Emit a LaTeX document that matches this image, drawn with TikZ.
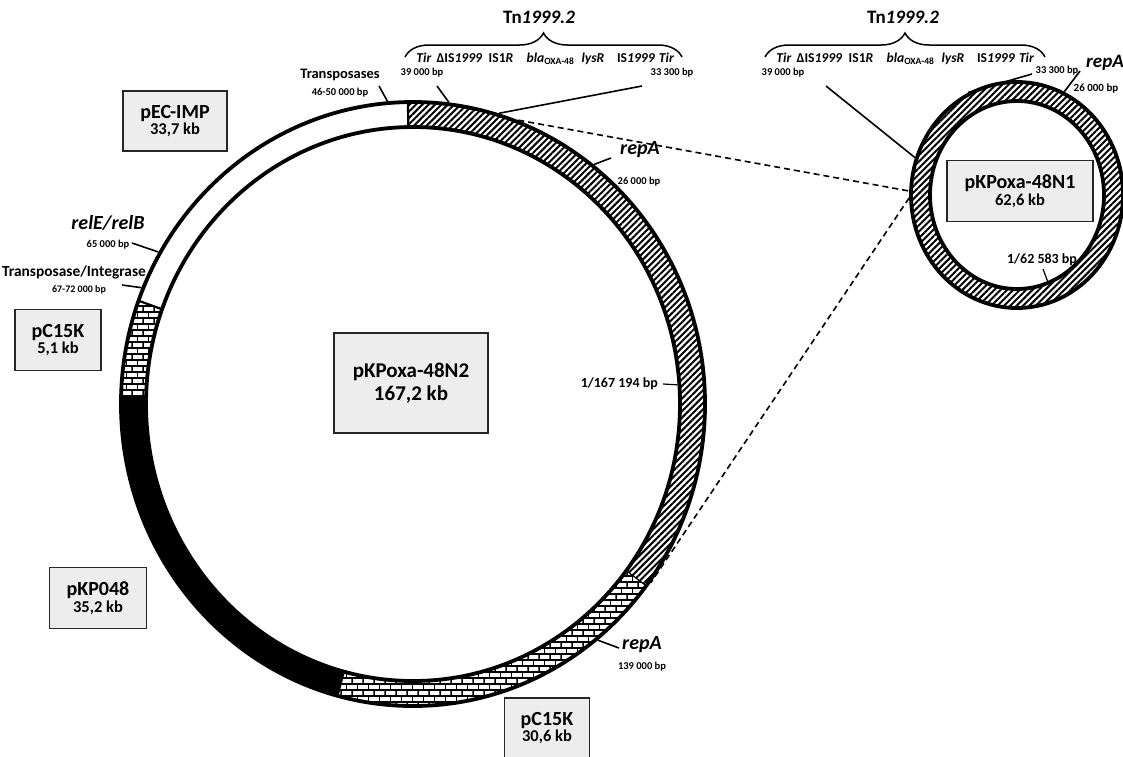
\documentclass[tikz,border=0pt]{standalone}
\usepackage{fontspec}
\setmainfont{Carlito}
\usetikzlibrary{patterns,patterns.meta,decorations.pathreplacing,calc}

\tikzdeclarepattern{
  name=brk,
  type=uncolored,
  bottom left={(-.6pt,-.6pt)},
  top right={(11.6pt,12.6pt)},
  tile size={(11pt,12pt)},
  code={
    \tikzset{x=1pt,y=1pt}
    \path[draw,line width=1.2pt] (-0.6,0)--(11.6,0) (-0.6,6)--(11.6,6) (0,0)--(0,6) (5.5,6)--(5.5,12);
  }
}

\newcommand{\ringseg}[3]{%
  \path[#1] ($(C)+(-#2:292 and 302)$) arc[start angle=-#2,end angle=-#3,x radius=292,y radius=302]
    -- ($(C)+(-#3:267 and 277)$) arc[start angle=-#3,end angle=-#2,x radius=267,y radius=277] -- cycle;}

\newcommand{\genes}[3]{%
  \node[gn] (#1a) at (#2+424,#3) {\textit{Tir}};
  \node[gn] (#1b) at (#2+459.5,#3) {ΔIS\textit{1999}};
  \node[gn] (#1c) at (#2+501,#3) {IS1\textit{R}};
  \node[gn] (#1d) at (#2+550.5,#3) {\textit{bla}\textsubscript{OXA-48}};
  \node[gn] (#1e) at (#2+593,#3) {\textit{lysR}};
  \node[gn] (#1f) at (#2+636,#3) {IS\textit{1999}};
  \node[gn] (#1g) at (#2+666.5,#3) {\textit{Tir}};}

\begin{document}
\begin{tikzpicture}[x=1pt,y=-1pt,
  bp/.style={inner sep=0pt, font=\fontsize{10.5}{12}\selectfont\bfseries},
  gene/.style={inner sep=0pt, font=\fontsize{20}{22}\selectfont\bfseries\itshape},
  mid/.style={inner sep=0pt, font=\fontsize{14.5}{16}\selectfont\bfseries},
  gn/.style={inner sep=0pt, anchor=base, font=\fontsize{13.6}{16}\selectfont\bfseries},
  tn/.style={inner sep=0pt, font=\fontsize{19}{21}\selectfont\bfseries},
  plasmid/.style={draw=black!85, line width=1.2pt, fill=black!7, align=center, inner sep=0pt, font=\bfseries},
  tick/.style={line width=1.6pt},
  ring/.style={line width=3.8pt},
  link/.style={line width=1.6pt},
  dlink/.style={line width=1.6pt, dash pattern=on 6pt off 4pt},
  brc/.style={line width=1.5pt, decorate, decoration={brace, amplitude=24pt, aspect=0.5}},
  hatch/.style={pattern={Lines[angle=45,distance=4.5pt,line width=2pt]}}
]
\useasboundingbox (0,0) rectangle (1123,756);
\fill[white] (0,0) rectangle (1123,756);

\coordinate (C) at (413,404);
\coordinate (R) at (1017,195);

% ---------- big ring ----------
\ringseg{fill=white}{91}{160}
\ringseg{pattern=brk}{160}{178.5}
\ringseg{fill=black}{178.5}{255}
\ringseg{pattern=brk}{255}{323}
\ringseg{hatch}{323}{451}
\draw[ring] (C) ellipse [x radius=292, y radius=302];
\draw[ring] (C) ellipse [x radius=267, y radius=277];
\foreach \a in {91,160,178.5,255}{
  \draw[line width=2.2pt] ($(C)+(-\a:267 and 277)$) -- ($(C)+(-\a:292 and 302)$);}
\draw[line width=1.2pt] ($(C)+(-323:267 and 277)$) -- ($(C)+(-323:292 and 302)$);

% ---------- small ring ----------
\path[hatch, even odd rule] (R) ellipse [x radius=106, y radius=113] (R) ellipse [x radius=87, y radius=94];
\draw[ring] (R) ellipse [x radius=106, y radius=113];
\draw[ring] (R) ellipse [x radius=87, y radius=94];

% ---------- ring points ----------
\coordinate (b95) at ($(C)+(-95:294 and 304)$);
\coordinate (b83) at ($(C)+(-83:294 and 304)$);
\coordinate (b73) at ($(C)+(-73:294 and 304)$);
\coordinate (b69) at ($(C)+(-69:294 and 304)$);
\coordinate (b52) at ($(C)+(-52:294 and 304)$);
\coordinate (bm51) at ($(C)+(51:294 and 304)$);
\coordinate (bm36) at ($(C)+(36:294 and 304)$);
\coordinate (b150) at ($(C)+(-150:294 and 304)$);
\coordinate (b157) at ($(C)+(-157.5:294 and 304)$);
\coordinate (bin) at ($(C)+(-4:265 and 275)$);
\coordinate (s161) at ($(R)+(-161:108 and 115)$);
\coordinate (s117) at ($(R)+(-117:108 and 115)$);
\coordinate (s64) at ($(R)+(-64:108 and 115)$);
\coordinate (s178) at ($(R)+(-178:108 and 115)$);
\coordinate (s181) at ($(R)+(-181.5:108 and 115)$);
\coordinate (sin) at ($(R)+(69:85 and 92)$);

% ---------- boxes ----------
\node[plasmid, minimum width=154pt, minimum height=100pt] (n2) at (411,383)
  {{\fontsize{21}{24}\selectfont pKPoxa-48N2}\\[4pt]{\fontsize{21}{24}\selectfont 167,2 kb}};
\node[plasmid, minimum width=146pt, minimum height=61pt] (n1) at (1020,191)
  {{\fontsize{20}{22}\selectfont pKPoxa-48N1}\\[1pt]{\fontsize{16.5}{19}\selectfont 62,6 kb}};
\node[plasmid, minimum width=104pt, minimum height=60pt] (pec) at (175,121)
  {{\fontsize{20}{22}\selectfont pEC-IMP}\\[1pt]{\fontsize{16.5}{19}\selectfont 33,7 kb}};
\node[plasmid, minimum width=86pt, minimum height=61pt] (pc1) at (58,340)
  {{\fontsize{20}{22}\selectfont pC15K}\\[1pt]{\fontsize{16.5}{19}\selectfont 5,1 kb}};
\node[plasmid, minimum width=97pt, minimum height=61pt] (pkp) at (98,598)
  {{\fontsize{20}{22}\selectfont pKP048}\\[1pt]{\fontsize{16.5}{19}\selectfont 35,2 kb}};
\node[plasmid, minimum width=85pt, minimum height=60pt] (pc2) at (547,728)
  {{\fontsize{20}{22}\selectfont pC15K}\\[1pt]{\fontsize{16.5}{19}\selectfont 30,6 kb}};

% ---------- Tn1999.2 groups ----------
\node[tn] (tnL) at (539,17) {Tn\textit{1999.2}};
\node[tn] (tnR) at (903,17) {Tn\textit{1999.2}};
\draw[brc] (405,57) -- (682,57);
\draw[brc] (765,57) -- (1045,57);
\genes{gL}{0}{62}
\genes{gR}{360}{62}

% ---------- labels big ring ----------
\node[mid] (trs) at (340,75) {Transposases};
\node[bp] (trsbp) at (340,93) {46-50 000 bp};
\coordinate (trst) at (379,86);
\draw[tick] (trst) -- (b95);

\node[bp] (l39) at (422,73) {39 000 bp};
\coordinate (l39t) at (437,86);
\draw[tick] (l39t) -- (b83);

\node[bp] (l33) at (672,73) {33 300 bp};
\coordinate (l33t) at (642,86);
\draw[link] (l33t) -- (b73);

\node[gene] (repA1) at (640,150) {repA};
\node[bp] (rep1bp) at (639,182) {26 000 bp};
\coordinate (rep1t) at (611,158);
\draw[tick] (b52) -- (rep1t);

\node[bp, font=\fontsize{14}{16}\selectfont\bfseries, anchor=east] (one) at (658,384) {1/167 194 bp};
\coordinate (onet) at (663,384);
\draw[line width=1.2pt] (onet) -- (bin);

\node[gene] (repA2) at (642,645) {repA};
\node[bp] (rep2bp) at (642,667) {139 000 bp};
\coordinate (rep2t) at (619,648);
\draw[tick] (bm51) -- (rep2t);

\node[gene] (rel) at (108,223) {relE/relB};
\node[bp] (relbp) at (108,245) {65 000 bp};
\coordinate (relt) at (132,243);
\draw[tick] (relt) -- (b150);

\node[mid, font=\fontsize{15.4}{17}\selectfont\bfseries] (ti) at (74,272) {Transposase/Integrase};
\node[bp, font=\fontsize{10}{12}\selectfont\bfseries] (tibp) at (79,290) {67-72 000 bp};
\coordinate (tit) at (122,285);
\draw[tick] (tit) -- (b157);

% ---------- labels small ring ----------
\node[bp] (r39) at (783,73) {39 000 bp};
\coordinate (r39t) at (826,86);
\draw[link] (r39t) -- (s161);

\node[bp] (r33) at (1057,71) {33 300 bp};
\coordinate (r33t) at (1032,74);
\draw[link] (r33t) -- (s117);

\node[gene, font=\fontsize{19}{21}\selectfont\bfseries\itshape] (repA3) at (1105,63) {repA};
\node[bp, font=\fontsize{11}{12}\selectfont\bfseries] (rep3bp) at (1096,88) {26 000 bp};
\coordinate (rep3t) at (1080,71);
\draw[tick] (s64) -- (rep3t);

\node[bp, font=\fontsize{14}{16}\selectfont\bfseries] (one2) at (1042,260) {1/62 583 bp};
\coordinate (one2t) at (1043,269);
\draw[line width=1.2pt] (one2t) -- (sin);

% ---------- dashed links ----------
\draw[dlink] (b69) -- (s178);
\draw[dlink] (s181) -- (bm36);
\end{tikzpicture}
\end{document}
